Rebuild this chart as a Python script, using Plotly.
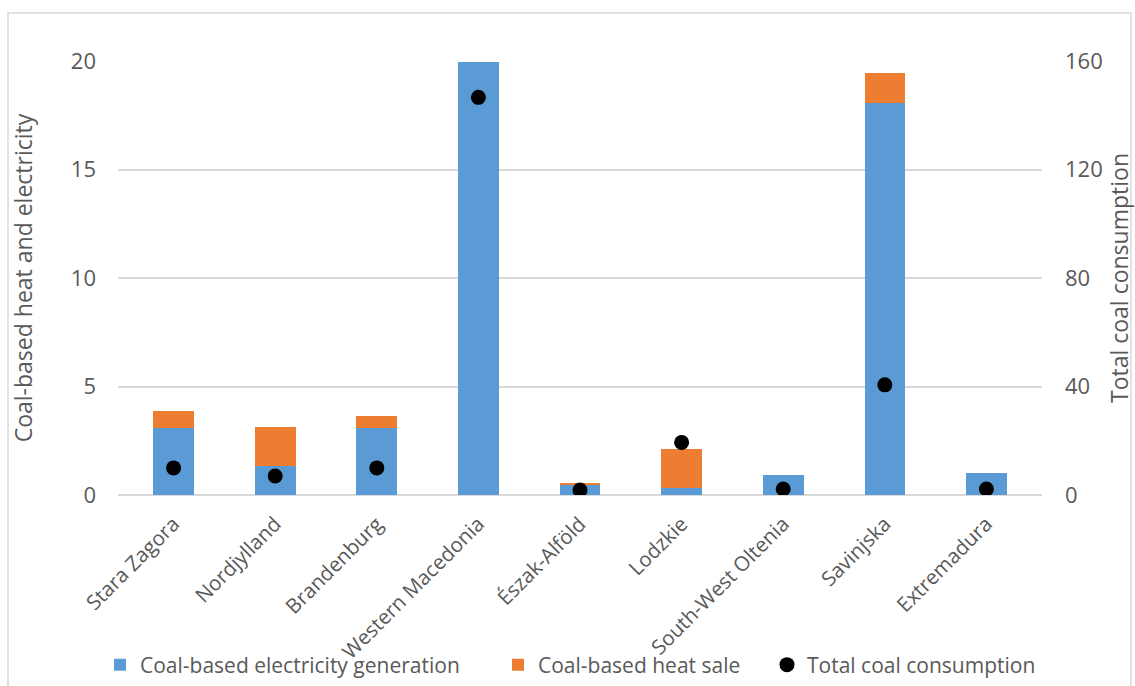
import plotly.graph_objects as go

# Regions and coal figures
regions = ["Stara Zagora", "Nordjylland", "Brandenburg", "Western Macedonia",
           "Észak-Alföld", "Lodzkie", "South-West Oltenia", "Savinjska", "Extremadura"]
electricity = [3.07, 1.34, 3.07, 19.95, 0.50, 0.31, 0.91, 18.05, 1.03]
heat_sale = [0.80, 1.81, 0.57, 0.0, 0.07, 1.79, 0.0, 1.40, 0.0]
total_consumption = [10.0, 7.0, 10.0, 146.6, 1.8, 19.4, 2.2, 40.6, 2.2]

left_ticks = [0, 5, 10, 15, 20]
right_ticks = [0, 40, 80, 120, 160]

BLUE = "#5B9BD5"
ORANGE = "#ED7D31"
TEXT = "#595959"
GRID = "#D9D9D9"
FONT = "Open Sans, sans-serif"

fig = go.Figure()
fig.add_trace(go.Bar(x=regions, y=electricity, name="Coal-based electricity generation",
                     marker=dict(color=BLUE, line=dict(width=0)), width=0.4,
                     legend="legend"))
fig.add_trace(go.Bar(x=regions, y=heat_sale, name="Coal-based heat sale",
                     marker=dict(color=ORANGE, line=dict(width=0)), width=0.4,
                     legend="legend2"))
fig.add_trace(go.Scatter(x=regions, y=total_consumption, name="Total coal consumption",
                         mode="markers", yaxis="y2", legend="legend3",
                         marker=dict(color="black", size=15, symbol="circle")))

L, R, T, B = 118, 93, 61, 191
W, H = 1135, 686
pw, ph = W - L - R, H - T - B


def legend_at(x_px):
    # one legend box per series, positioned along the bottom row
    return dict(orientation="h", xref="container", x=x_px / W, xanchor="left",
                yref="container", y=(H - 665) / H, yanchor="middle",
                font=dict(size=21, color=TEXT), itemwidth=30,
                bgcolor="rgba(0,0,0,0)", borderwidth=0)


fig.update_layout(
    width=W, height=H,
    margin=dict(l=L, r=R, t=T, b=B, autoexpand=False),
    barmode="stack",
    plot_bgcolor="white", paper_bgcolor="white",
    font=dict(family=FONT, color=TEXT, size=20),
    xaxis=dict(tickangle=-45, showgrid=False, showline=False, ticks="",
               automargin=False, ticklabelstandoff=12,
               tickfont=dict(size=20.5, color=TEXT)),
    yaxis=dict(range=[0, 20], tickvals=left_ticks, showgrid=True, gridcolor=GRID,
               gridwidth=1.5, zeroline=True, zerolinecolor=GRID, zerolinewidth=1.5,
               automargin=False, ticklabelstandoff=21, tickfont=dict(size=22, color=TEXT),
               title=dict(text="Coal-based heat and electricity", standoff=31,
                          font=dict(size=23, color=TEXT))),
    yaxis2=dict(range=[0, 160], tickvals=right_ticks, overlaying="y", side="right",
                showgrid=False, zeroline=False, automargin=False, ticklabelstandoff=22,
                tickfont=dict(size=22, color=TEXT),
                title=dict(text="Total coal consumption", standoff=21,
                           font=dict(size=23, color=TEXT))),
    legend=legend_at(100),
    legend2=legend_at(498),
    legend3=legend_at(767),
    showlegend=True,
    shapes=[dict(type="rect", xref="paper", yref="paper",
                 x0=(8 - L) / pw, x1=(1131 - L) / pw,
                 y0=(495 - 690) / ph, y1=(495 - 13) / ph,
                 line=dict(color="#D9D9D9", width=1.5), layer="below")],
)

fig.write_html("out.html")
